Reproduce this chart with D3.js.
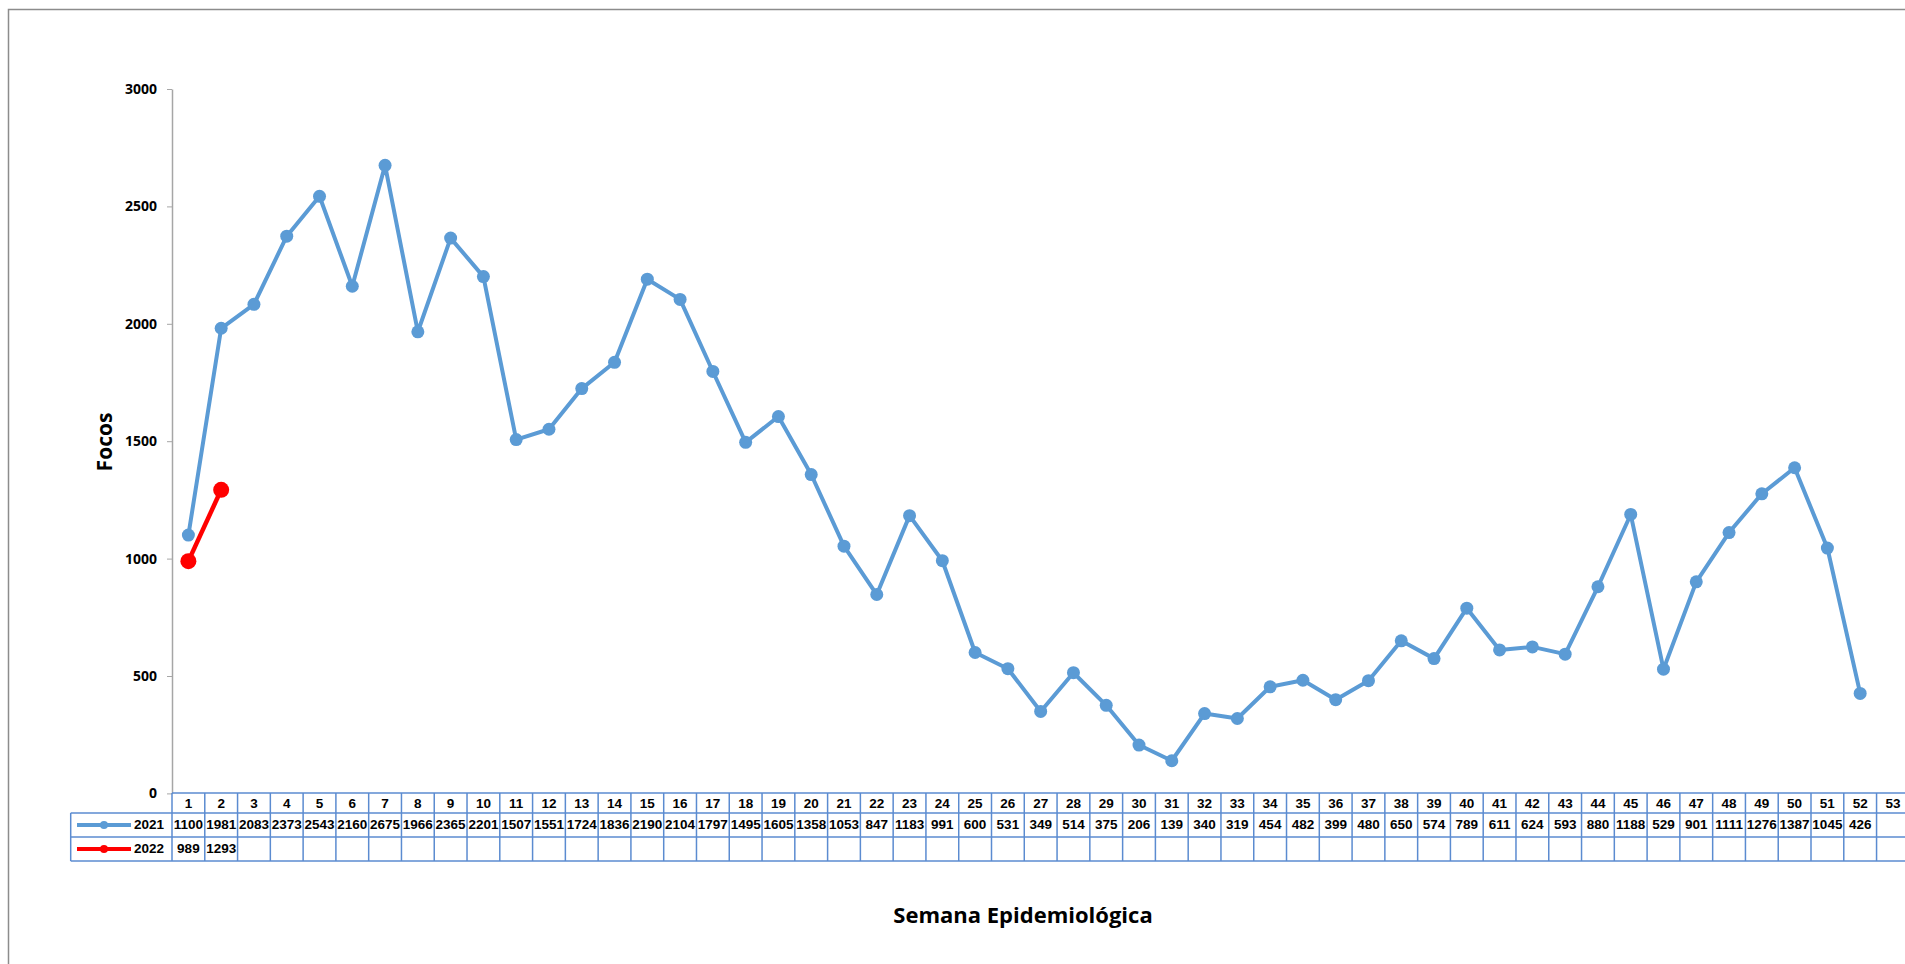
<!DOCTYPE html>
<html>
<head>
<meta charset="utf-8">
<script src="https://cdn.jsdelivr.net/npm/d3@7"></script>
<style>
    body { margin: 0; background: #fff; }
    svg { display: block; }
</style>
</head>
<body>
<svg id="chart" width="1905" height="964"></svg>
<script>
"use strict";

// Data
var weeks = d3.range(1, 54);
var series2021 = [1100, 1981, 2083, 2373, 2543, 2160, 2675, 1966, 2365, 2201,
    1507, 1551, 1724, 1836, 2190, 2104, 1797, 1495, 1605, 1358,
    1053, 847, 1183, 991, 600, 531, 349, 514, 375, 206,
    139, 340, 319, 454, 482, 399, 480, 650, 574, 789,
    611, 624, 593, 880, 1188, 529, 901, 1111, 1276, 1387,
    1045, 426];
var series2022 = [989, 1293];
var yTicks = [0, 500, 1000, 1500, 2000, 2500, 3000];

var series = [
    {name: "2021", values: series2021, color: "#5b9bd5", r: 6.5, width: 4},
    {name: "2022", values: series2022, color: "#ff0000", r: 8, width: 4.5}
];

var svg = d3.select("#chart");

var plotLeft = 172;
var colW = 32.78;
var plotTop = 89;
var plotBottom = 793.4;
var gridColor = "#5b8bd0";

// Outer frame
svg.append("rect")
    .attr("x", 8.5)
    .attr("y", 9.5)
    .attr("width", 1920)
    .attr("height", 1000)
    .style("fill", "none")
    .style("stroke", "#8c8c8c")
    .style("stroke-width", 1.5)
;

var x = d3.scaleBand()
    .domain(weeks)
    .range([plotLeft, plotLeft + weeks.length * colW])
;

var y = d3.scaleLinear()
    .domain([0, 3000])
    .range([plotBottom, plotTop])
;

// Y axis
var yAxis = svg.append("g")
    .attr("transform", "translate(" + plotLeft + ",0)")
    .call(d3.axisLeft(y)
        .tickValues(yTicks)
        .tickFormat(d3.format("d"))
        .tickSize(5)
        .tickPadding(10)
        .tickSizeOuter(0))
;
yAxis.select(".domain").style("stroke", "#a6a6a6").style("stroke-width", 1.5);
yAxis.selectAll(".tick line").style("stroke", "#a6a6a6");
yAxis.selectAll(".tick text")
    .style("font-family", "'Open Sans', sans-serif")
    .style("font-weight", "bold")
    .style("font-size", "14px")
    .style("fill", "#000")
;

svg.append("text")
    .attr("transform", "translate(112,442) rotate(-90)")
    .attr("text-anchor", "middle")
    .style("font-family", "'Open Sans', sans-serif")
    .style("font-weight", "bold")
    .style("font-size", "21px")
    .text("Focos")
;

svg.append("text")
    .attr("x", 1023)
    .attr("y", 923)
    .attr("text-anchor", "middle")
    .style("font-family", "'Open Sans', sans-serif")
    .style("font-weight", "bold")
    .style("font-size", "22px")
    .text("Semana Epidemiológica")
;

// Lines and markers
var line = d3.line()
    .x(function(d, i) { return x(weeks[i]) + x.bandwidth() / 2; })
    .y(function(d) { return y(d); })
;

series.forEach(function(s) {
    svg.append("path")
        .datum(s.values)
        .attr("d", line)
        .style("fill", "none")
        .style("stroke", s.color)
        .style("stroke-width", s.width)
        .style("stroke-linejoin", "round")
    ;
    svg.selectAll(null)
        .data(s.values)
        .enter()
        .append("circle")
        .attr("cx", function(d, i) { return x(weeks[i]) + x.bandwidth() / 2; })
        .attr("cy", function(d) { return y(d); })
        .attr("r", s.r)
        .style("fill", s.color)
    ;
});

// Data table
var table = svg.append("g")
    .style("font-family", "'Liberation Sans', Arial, sans-serif")
    .style("font-weight", "bold")
    .style("font-size", "13.5px")
;
var rowY = [793, 813, 837, 861];
var legendLeft = 70.7;
var plotRight = plotLeft + weeks.length * colW;

table.selectAll(".hline")
    .data(rowY)
    .enter()
    .append("line")
    .attr("x1", function(d, i) { return i === 0 ? plotLeft : legendLeft; })
    .attr("x2", plotRight)
    .attr("y1", function(d) { return d; })
    .attr("y2", function(d) { return d; })
    .style("stroke", gridColor)
    .style("stroke-width", 1.5)
;

table.selectAll(".vline")
    .data(weeks.concat([54]))
    .enter()
    .append("line")
    .attr("x1", function(d) { return d === 54 ? plotRight : x(d); })
    .attr("x2", function(d) { return d === 54 ? plotRight : x(d); })
    .attr("y1", rowY[0])
    .attr("y2", rowY[3])
    .style("stroke", gridColor)
    .style("stroke-width", 1.5)
;

table.append("line")
    .attr("x1", legendLeft).attr("x2", legendLeft)
    .attr("y1", rowY[1]).attr("y2", rowY[3])
    .style("stroke", gridColor)
    .style("stroke-width", 1.5)
;

table.selectAll(".week")
    .data(weeks)
    .enter()
    .append("text")
    .attr("x", function(d) { return x(d) + x.bandwidth() / 2; })
    .attr("y", 808)
    .attr("text-anchor", "middle")
    .text(function(d) { return d; })
;

series.forEach(function(s, k) {
    var base = 829 + k * 24;
    table.selectAll(null)
        .data(s.values)
        .enter()
        .append("text")
        .attr("x", function(d, i) { return x(weeks[i]) + x.bandwidth() / 2; })
        .attr("y", base)
        .attr("text-anchor", "middle")
        .text(function(d) { return d; })
    ;

    var cy = 825 + k * 24;
    table.append("line")
        .attr("x1", 77).attr("x2", 131)
        .attr("y1", cy).attr("y2", cy)
        .style("stroke", s.color)
        .style("stroke-width", 4)
    ;
    table.append("circle")
        .attr("cx", 104).attr("cy", cy)
        .attr("r", 4)
        .style("fill", s.color)
    ;
    table.append("text")
        .attr("x", 164)
        .attr("y", base)
        .attr("text-anchor", "end")
        .text(s.name)
    ;
});
</script>
</body>
</html>
